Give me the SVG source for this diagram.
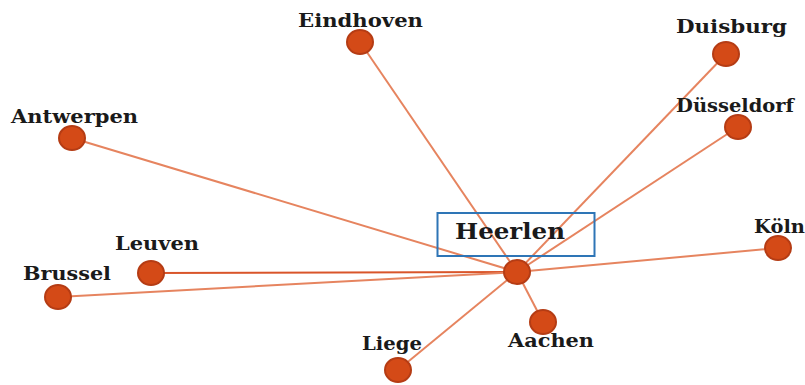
<svg xmlns="http://www.w3.org/2000/svg" width="805" height="385" viewBox="0 0 805 385">
<style>
.edge{stroke:#E6845F;stroke-width:2;fill:none}
.edge.dark{stroke:#D9552A}
.node{fill:#D44A17;stroke:#B53C14;stroke-width:2}
.lbl{font-family:"DejaVu Serif","Liberation Serif",serif;font-weight:bold;font-size:19px;fill:#1a1a1a;text-anchor:start}
.hl{font-family:"DejaVu Serif","Liberation Serif",serif;font-weight:bold;font-size:22px;fill:#1a1a1a}
</style>
<rect width="805" height="385" fill="#ffffff"/>
<g id="connectors">
<line class="edge" x1="517" y1="272" x2="360" y2="42"/>
<line class="edge" x1="517" y1="272" x2="726" y2="54"/>
<line class="edge" x1="517" y1="272" x2="738" y2="127"/>
<line class="edge" x1="517" y1="272" x2="72" y2="138"/>
<line class="edge" x1="517" y1="272" x2="778" y2="248"/>
<line class="edge dark" x1="517" y1="272" x2="151" y2="273"/>
<line class="edge" x1="517" y1="272" x2="58" y2="297"/>
<line class="edge" x1="517" y1="272" x2="398" y2="370"/>
<line class="edge" x1="517" y1="272" x2="543" y2="322"/>
</g>
<g id="heerlen">
<rect x="437.5" y="213" width="157" height="43" fill="none" stroke="#2E75B6" stroke-width="2"/>
<text class="hl" x="455" y="239" textLength="110" lengthAdjust="spacingAndGlyphs">Heerlen</text>
<ellipse class="node" cx="517" cy="272" rx="13" ry="12"/>
</g>
<g id="eindhoven">
<text class="lbl" x="298" y="27" textLength="125" lengthAdjust="spacingAndGlyphs">Eindhoven</text>
<ellipse class="node" cx="360" cy="42" rx="13" ry="12"/>
</g>
<g id="duisburg">
<text class="lbl" x="676" y="33" textLength="111" lengthAdjust="spacingAndGlyphs">Duisburg</text>
<ellipse class="node" cx="726" cy="54" rx="13" ry="12"/>
</g>
<g id="dusseldorf">
<text class="lbl" x="676" y="112" textLength="118" lengthAdjust="spacingAndGlyphs">Düsseldorf</text>
<ellipse class="node" cx="738" cy="127" rx="13" ry="12"/>
</g>
<g id="antwerpen">
<text class="lbl" x="11" y="123" textLength="127" lengthAdjust="spacingAndGlyphs">Antwerpen</text>
<ellipse class="node" cx="72" cy="138" rx="13" ry="12"/>
</g>
<g id="koln">
<text class="lbl" x="754" y="233" textLength="51" lengthAdjust="spacingAndGlyphs">Köln</text>
<ellipse class="node" cx="778" cy="248" rx="13" ry="12"/>
</g>
<g id="leuven">
<text class="lbl" x="115" y="250" textLength="84" lengthAdjust="spacingAndGlyphs">Leuven</text>
<ellipse class="node" cx="151" cy="273" rx="13" ry="12"/>
</g>
<g id="brussel">
<text class="lbl" x="23" y="280" textLength="88" lengthAdjust="spacingAndGlyphs">Brussel</text>
<ellipse class="node" cx="58" cy="297" rx="13" ry="12"/>
</g>
<g id="liege">
<text class="lbl" x="362" y="350" textLength="60" lengthAdjust="spacingAndGlyphs">Liege</text>
<ellipse class="node" cx="398" cy="370" rx="13" ry="12"/>
</g>
<g id="aachen">
<text class="lbl" x="508" y="347" textLength="86" lengthAdjust="spacingAndGlyphs">Aachen</text>
<ellipse class="node" cx="543" cy="322" rx="13" ry="12"/>
</g>
</svg>
